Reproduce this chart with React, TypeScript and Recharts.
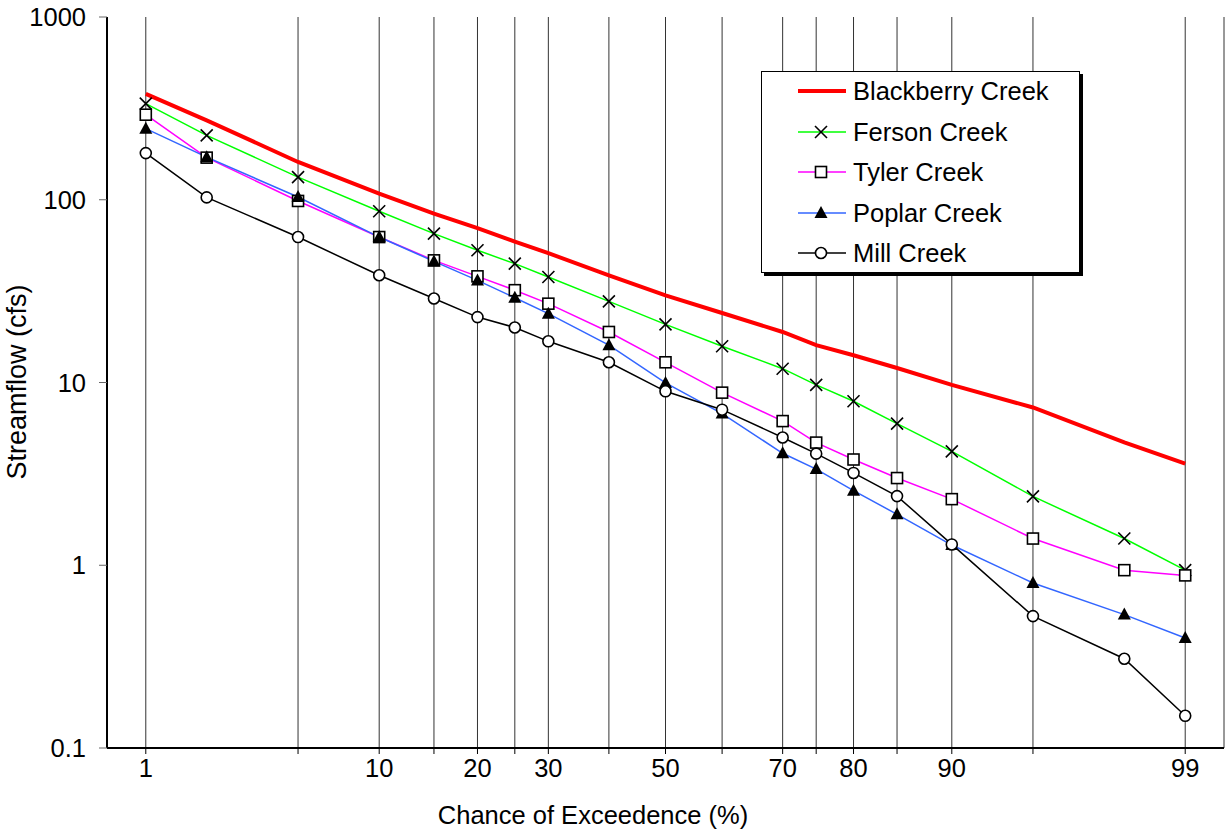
import React from "react";
import { CartesianGrid, Line, LineChart, XAxis, YAxis } from "recharts";

// chance of exceedence (%) for each plotted point
const chance = [1, 2, 5, 10, 15, 20, 25, 30, 40, 50, 60, 70, 75, 80, 85, 90, 95, 98, 99];

// streamflow (cfs)
const blackberry = [380, 272, 161, 108, 84, 70, 59, 51, 38.6, 30, 24, 18.9, 16.0, 14.1, 12.0, 9.7, 7.3, 4.7, 3.6];
const ferson = [336, 225, 133, 86.5, 65.3, 52.9, 44.7, 37.8, 27.8, 20.8, 15.8, 11.9, 9.7, 7.9, 5.96, 4.2, 2.38, 1.4, 0.94];
const tyler = [292, 170, 98.5, 62.5, 46.6, 38.1, 32, 27, 18.9, 12.9, 8.8, 6.15, 4.69, 3.79, 3.0, 2.3, 1.4, 0.94, 0.88];
const poplar = [245, 171, 103.5, 62.5, 46, 36.2, 29.1, 23.8, 16.0, 9.94, 6.76, 4.1, 3.36, 2.56, 1.9, 1.29, 0.8, 0.537, 0.4];
const mill = [180, 103, 62.5, 38.6, 28.8, 22.8, 20, 16.8, 12.9, 8.95, 7.1, 5.0, 4.08, 3.2, 2.39, 1.3, 0.527, 0.308, 0.15];

// gridlines on the probability axis and the ones that carry a label
const gridChance = [1, 5, 10, 15, 20, 25, 30, 40, 50, 60, 70, 75, 80, 85, 90, 95, 99];
const labeledChance = [1, 10, 20, 30, 50, 70, 80, 90, 99];
const yTicks = [0.1, 1, 10, 100, 1000];

// inverse normal cdf (Acklam) -> probability paper axis
function probit(p: number) {
  const a = [-39.69683028665376, 220.9460984245205, -275.9285104469687, 138.357751867269, -30.66479806614716, 2.506628277459239];
  const b = [-54.47609879822406, 161.5858368580409, -155.6989798598866, 66.80131188771972, -13.28068155288572];
  const c = [-0.007784894002430293, -0.3223964580411365, -2.400758277161838, -2.549732539343734, 4.374664141464968, 2.938163982698783];
  const d = [0.007784695709041462, 0.3224671290700398, 2.445134137142996, 3.754408661907416];
  const lo = 0.02425;
  if (p < lo) {
    const q = Math.sqrt(-2 * Math.log(p));
    return (((((c[0] * q + c[1]) * q + c[2]) * q + c[3]) * q + c[4]) * q + c[5]) / ((((d[0] * q + d[1]) * q + d[2]) * q + d[3]) * q + 1);
  }
  if (p > 1 - lo) {
    const q = Math.sqrt(-2 * Math.log(1 - p));
    return -(((((c[0] * q + c[1]) * q + c[2]) * q + c[3]) * q + c[4]) * q + c[5]) / ((((d[0] * q + d[1]) * q + d[2]) * q + d[3]) * q + 1);
  }
  const q = p - 0.5;
  const r = q * q;
  return ((((((a[0] * r + a[1]) * r + a[2]) * r + a[3]) * r + a[4]) * r + a[5]) * q) / (((((b[0] * r + b[1]) * r + b[2]) * r + b[3]) * r + b[4]) * r + 1);
}

const data = chance.map((p, i) => ({
  z: probit(p / 100),
  blackberry: blackberry[i],
  ferson: ferson[i],
  tyler: tyler[i],
  poplar: poplar[i],
  mill: mill[i],
}));

const xTicks = gridChance.map((p) => probit(p / 100));
const xLabel = (_v: number, i: number) => (labeledChance.includes(gridChance[i]) ? String(gridChance[i]) : "");

const CrossDot = (props: any) => {
  const { cx, cy, index } = props;
  if (cx == null || cy == null) return <g key={index} />;
  return (
    <g key={index} stroke="#000" strokeWidth={1.6}>
      <line x1={cx - 6} y1={cy - 6} x2={cx + 6} y2={cy + 6} />
      <line x1={cx - 6} y1={cy + 6} x2={cx + 6} y2={cy - 6} />
    </g>
  );
};

const SquareDot = (props: any) => {
  const { cx, cy, index } = props;
  if (cx == null || cy == null) return <g key={index} />;
  return <rect key={index} x={cx - 5.5} y={cy - 5.5} width={11} height={11} fill="#fff" stroke="#000" strokeWidth={1.6} />;
};

const TriangleDot = (props: any) => {
  const { cx, cy, index } = props;
  if (cx == null || cy == null) return <g key={index} />;
  return <polygon key={index} points={`${cx},${cy - 7} ${cx - 6.5},${cy + 5} ${cx + 6.5},${cy + 5}`} fill="#000" />;
};

const CircleDot = (props: any) => {
  const { cx, cy, index } = props;
  if (cx == null || cy == null) return <g key={index} />;
  return <circle key={index} cx={cx} cy={cy} r={5.5} fill="#fff" stroke="#000" strokeWidth={1.6} />;
};

const legendItems = [
  { name: "Blackberry Creek", color: "#ff0000", width: 4, marker: null },
  { name: "Ferson Creek", color: "#00ff00", width: 1.5, marker: "x" },
  { name: "Tyler Creek", color: "#ff00ff", width: 1.5, marker: "square" },
  { name: "Poplar Creek", color: "#3366ff", width: 1.5, marker: "triangle" },
  { name: "Mill Creek", color: "#000000", width: 1.5, marker: "circle" },
];

function LegendMarker({ kind }: { kind: string | null }) {
  const cx = 24;
  const cy = 10;
  if (kind === "x") return <CrossDot cx={cx} cy={cy} index={0} />;
  if (kind === "square") return <SquareDot cx={cx} cy={cy} index={0} />;
  if (kind === "triangle") return <TriangleDot cx={cx} cy={cy} index={0} />;
  if (kind === "circle") return <CircleDot cx={cx} cy={cy} index={0} />;
  return null;
}

function ChartLegend() {
  return (
    <div
      style={{
        position: "absolute",
        left: 761,
        top: 71,
        width: 317,
        height: 200,
        border: "1px solid #000",
        background: "#fff",
        boxShadow: "3px 3px 0 #000",
      }}
    >
      {legendItems.map((it, i) => (
        <div key={it.name} style={{ position: "absolute", left: 35, top: 8 + i * 40.6, height: 22, display: "flex", alignItems: "center" }}>
          <svg width={50} height={20} style={{ overflow: "visible" }}>
            <line x1={1} y1={10} x2={49} y2={10} stroke={it.color} strokeWidth={it.width} />
            <LegendMarker kind={it.marker} />
          </svg>
          <span style={{ marginLeft: 6, fontSize: 25.5, lineHeight: "22px", color: "#000" }}>{it.name}</span>
        </div>
      ))}
    </div>
  );
}

export default function App() {
  const font = "Arial, 'Liberation Sans', sans-serif";
  return (
    <div style={{ position: "relative", width: 1225, height: 831, fontFamily: font, background: "#fff" }}>
      <style>{"body{margin:0}"}</style>
      <LineChart width={1225} height={831} data={data} margin={{ top: 17, right: 1, bottom: 0, left: 0 }} style={{ fontFamily: font }}>
        <CartesianGrid vertical horizontal={false} stroke="#333" strokeWidth={1} />
        <XAxis
          dataKey="z"
          type="number"
          domain={[-2.5, 2.5]}
          allowDataOverflow
          ticks={xTicks}
          interval={0}
          tickFormatter={xLabel}
          height={83}
          tickSize={6}
          tickMargin={5}
          tick={{ fill: "#000", fontSize: 25.5 }}
          tickLine={{ stroke: "#000" }}
          axisLine={{ stroke: "#000", strokeWidth: 2 }}
        />
        <XAxis
          xAxisId="top"
          orientation="top"
          dataKey="z"
          type="number"
          domain={[-2.5, 2.5]}
          allowDataOverflow
          ticks={xTicks}
          interval={0}
          tickFormatter={() => ""}
          height={0}
          tickSize={5}
          tickLine={{ stroke: "#000" }}
          axisLine={{ stroke: "#000", strokeWidth: 2 }}
        />
        <YAxis
          scale="log"
          type="number"
          domain={[0.1, 1000]}
          allowDataOverflow
          ticks={yTicks}
          interval={0}
          tickFormatter={(v: number) => String(v)}
          width={107}
          tickSize={8}
          tickMargin={13}
          tick={{ fill: "#000", fontSize: 25.5 }}
          tickLine={{ stroke: "#666" }}
          axisLine={{ stroke: "#000", strokeWidth: 2 }}
        />
        <YAxis
          yAxisId="right"
          orientation="right"
          type="number"
          domain={[0, 1]}
          width={0}
          tick={false}
          tickLine={false}
          axisLine={{ stroke: "#666", strokeWidth: 1.5 }}
        />
        <Line dataKey="blackberry" stroke="#ff0000" strokeWidth={4} dot={false} isAnimationActive={false} />
        <Line dataKey="ferson" stroke="#00ff00" strokeWidth={1.5} dot={CrossDot} isAnimationActive={false} />
        <Line dataKey="tyler" stroke="#ff00ff" strokeWidth={1.5} dot={SquareDot} isAnimationActive={false} />
        <Line dataKey="poplar" stroke="#3366ff" strokeWidth={1.5} dot={TriangleDot} isAnimationActive={false} />
        <Line dataKey="mill" stroke="#000000" strokeWidth={1.5} dot={CircleDot} isAnimationActive={false} />
      </LineChart>
      <ChartLegend />
      <div
        style={{
          position: "absolute",
          left: 17,
          top: 382,
          transform: "translate(-50%, -50%) rotate(-90deg)",
          whiteSpace: "nowrap",
          fontSize: 27,
          color: "#000",
        }}
      >
        Streamflow (cfs)
      </div>
      <div
        style={{
          position: "absolute",
          left: 593,
          top: 815,
          transform: "translate(-50%, -50%)",
          whiteSpace: "nowrap",
          fontSize: 25.5,
          color: "#000",
        }}
      >
        Chance of Exceedence (%)
      </div>
    </div>
  );
}
